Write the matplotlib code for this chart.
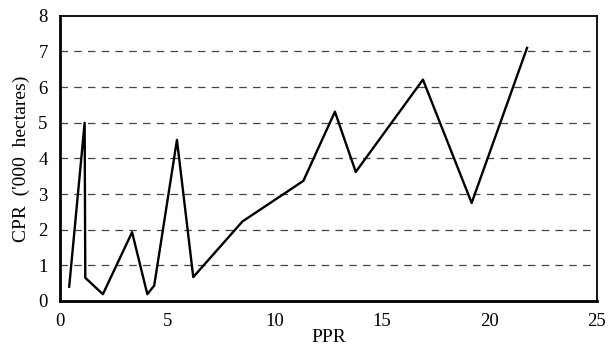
import matplotlib
matplotlib.use("Agg")
import matplotlib.pyplot as plt

ppr = [0.42, 1.14, 1.17, 1.99, 3.35, 4.06, 4.38, 5.44, 6.2, 8.49, 11.33, 12.8, 13.77, 16.9, 19.17, 21.75]
cpr = [0.40, 5.0, 0.65, 0.19, 1.93, 0.19, 0.43, 4.52, 0.67, 2.23, 3.37, 5.31, 3.62, 6.21, 2.75, 7.1]
xticks = [0, 5, 10, 15, 20, 25]
yticks = [0, 1, 2, 3, 4, 5, 6, 7, 8]

plt.rcParams['font.family'] = ['Liberation Serif', 'DejaVu Serif']

fig = plt.figure(figsize=(6.14, 3.52), dpi=100)
ax = fig.add_axes([0.098, 0.145, 0.874, 0.81])

for y in yticks[1:-1]:
    ax.axhline(y, color='#444444', lw=0.9, ls=(0, (6, 5)), zorder=1)

ax.plot(ppr, cpr, color='black', lw=1.7, zorder=3)

ax.set_xlim(0, 25)
ax.set_ylim(0, 8)
ax.set_xticks(xticks)
ax.set_yticks(yticks)
ax.tick_params(length=0, labelsize=13.5)
ax.tick_params(axis='x', pad=9)
ax.tick_params(axis='y', pad=9)
for s in ax.spines.values():
    s.set_linewidth(1.3)
ax.spines['left'].set_linewidth(2)
ax.spines['bottom'].set_linewidth(2)

ax.set_xlabel('PPR', fontsize=14, labelpad=-1)
ax.set_ylabel("CPR  ('000  hectares)", fontsize=14, labelpad=6)

fig.savefig('out.png', dpi=100)
